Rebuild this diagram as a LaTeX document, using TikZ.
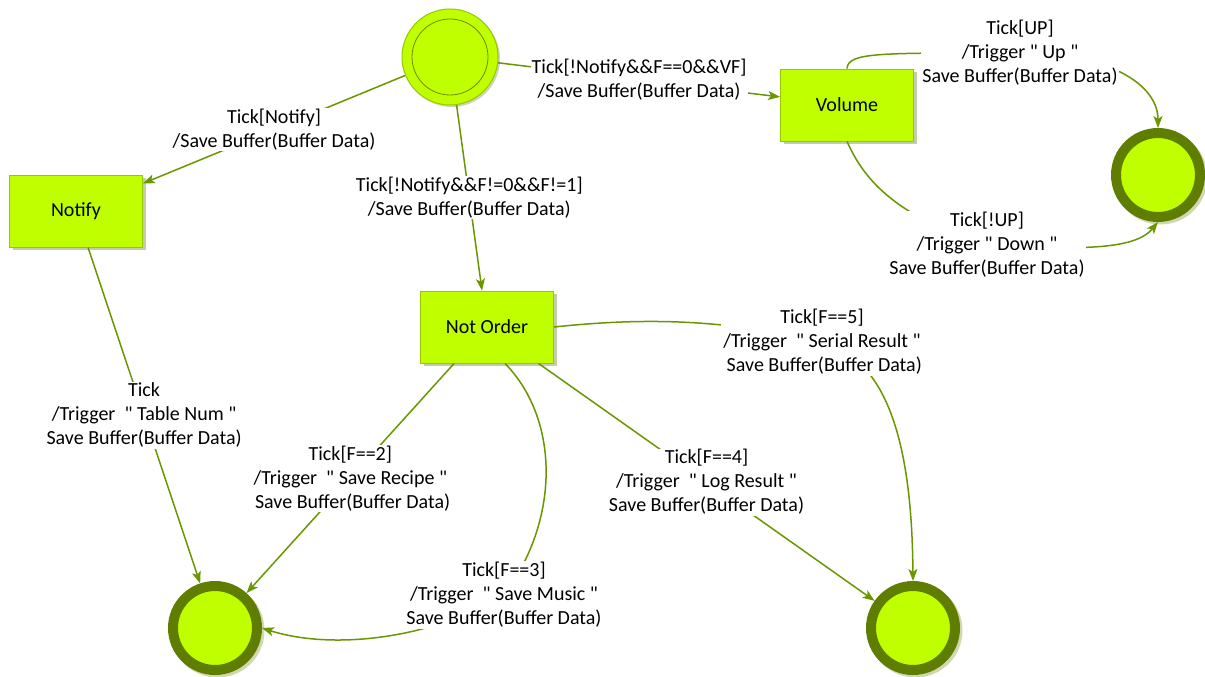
\documentclass[tikz,border=0pt]{standalone}
\usepackage{fontspec}
\setmainfont{Carlito}
\usetikzlibrary{arrows.meta,shadows,calc}
\definecolor{stlime}{HTML}{BFFF00}
\definecolor{stborder}{HTML}{96C800}
\definecolor{stdark}{HTML}{5F7D00}
\definecolor{stedge}{HTML}{6A9600}
\definecolor{stinner}{HTML}{6B8A00}
\definecolor{stshadow}{HTML}{A9B88A}
% straight double quote
\newcommand{\sq}{\textquotedbl}
\begin{document}
\begin{tikzpicture}[x=1pt,y=-1pt,
  every node/.style={font=\fontsize{20}{24}\selectfont},
  statebox/.style={draw=stborder, fill=stlime, minimum width=133pt, minimum height=72pt,
    line width=0.8pt, drop shadow={shadow xshift=3pt, shadow yshift=-3pt, fill=stshadow, opacity=0.7}},
  finalstate/.style={circle, fill=stlime, draw=stdark, line width=10pt, minimum size=84pt, inner sep=0pt},
  edge/.style={draw=stedge, line width=1.5pt, -{Stealth[length=12pt,width=9pt,inset=3pt]}},
  lbl/.style={fill=white, align=center, inner sep=1pt, text=black}]

% page area
\useasboundingbox[fill=white] (0,0) rectangle (1205,677);

% shadows behind the final states
\foreach \px/\py in {215/628,913/628,1158/175}
  \fill[stdark!30] (\px+2.5,\py+2.5) circle (47);

% initial state
\node[circle, fill=stlime, draw=stborder, line width=1pt, minimum size=96pt, inner sep=0pt,
  drop shadow={shadow xshift=2pt, shadow yshift=-2pt, fill=stshadow, opacity=0.6}] (init) at (450,57) {};
\draw[stinner, line width=0.8pt] (init.center) circle (38);

% states
\node[statebox] (notify) at (76,211) {Notify};
\node[statebox] (vol) at (847,105) {Volume};
\node[statebox] (nord) at (487,327) {Not Order};

% final states
\node[finalstate] (fbl) at (215,628) {};
\node[finalstate] (fbr) at (913,628) {};
\node[finalstate] (fr) at (1158,175) {};

% transitions from the initial state
\draw[edge] (init) -- node[lbl] {Tick[Notify]\\/Save Buffer(Buffer Data)} (notify);
\draw[edge] (init) -- node[lbl] {Tick[!Notify\&\&F==0\&\&VF]\\/Save Buffer(Buffer Data)} (vol);
\draw[edge] (init) -- node[lbl] {Tick[!Notify\&\&F!=0\&\&F!=1]\\/Save Buffer(Buffer Data)} (nord);

% volume transitions
\draw[edge] (vol.north) .. controls (848,52) and (880,53) .. (1020,53)
  node[lbl] {Tick[UP]\\/Trigger \sq\ Up \sq\\Save Buffer(Buffer Data)}
  .. controls (1110,53) and (1158,85) .. (fr.north);
\draw[edge] (vol.south) .. controls (862,175) and (890,215) .. (987,245)
  node[lbl] {Tick[!UP]\\/Trigger \sq\ Down \sq\\Save Buffer(Buffer Data)}
  .. controls (1080,250) and (1135,250) .. (fr.south);

% notify transition
\draw[edge] (notify) -- node[lbl] {Tick\\/Trigger\ \ \sq\ Table Num \sq\\Save Buffer(Buffer Data)} (fbl);

% not order transitions
\draw[edge] (nord) -- node[lbl] {Tick[F==2]\\/Trigger\ \ \sq\ Save Recipe \sq\\\ Save Buffer(Buffer Data)} (fbl);
\draw[edge] ($(nord.south)+(18,0)$) .. controls (560,420) and (560,520) .. (504,595)
  node[lbl] {Tick[F==3]\\/Trigger\ \ \sq\ Save Music \sq\\Save Buffer(Buffer Data)}
  .. controls (430,640) and (330,650) .. (fbl.east);
\draw[edge] (nord) -- node[lbl] {Tick[F==4]\\/Trigger\ \ \sq\ Log Result \sq\\Save Buffer(Buffer Data)} (fbr);
\draw[edge] (nord.east) .. controls (640,318) and (720,318) .. (822,342)
  node[lbl] {Tick[F==5]\\/Trigger\ \ \sq\ Serial Result \sq\\\ Save Buffer(Buffer Data)}
  .. controls (890,360) and (912,450) .. (fbr.north);
\end{tikzpicture}
\end{document}
